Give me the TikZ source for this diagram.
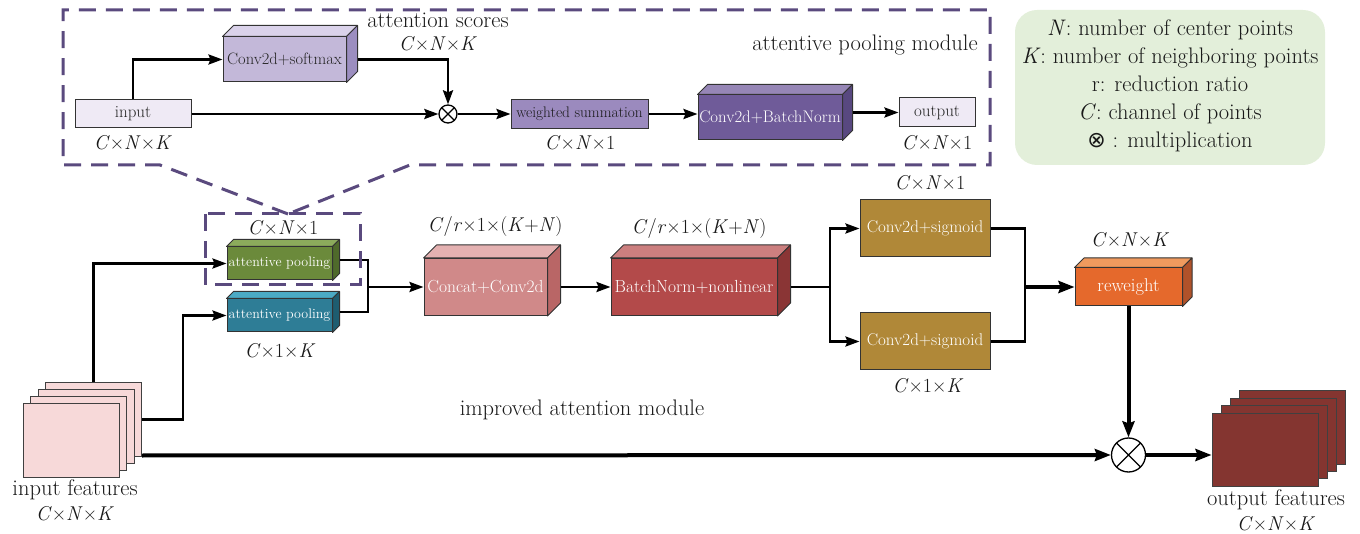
\documentclass[tikz,border=0pt]{standalone}
\usepackage{fontspec}
\newfontfamily\symf{DejaVu Sans}
\usetikzlibrary{arrows.meta,calc}
\newcommand\dm[3]{\textit{#1}×#2×\textit{#3}}
\newcommand\fs[1]{\fontsize{#1}{#1}\selectfont}
\definecolor{lightp}{HTML}{EFEAF5}
\definecolor{csF}{HTML}{C3B8D9}\definecolor{csT}{HTML}{DAD2EA}\definecolor{csS}{HTML}{9C8EC0}
\definecolor{wsF}{HTML}{9B8ABE}
\definecolor{cbF}{HTML}{6F5B99}\definecolor{cbT}{HTML}{9686B6}\definecolor{cbS}{HTML}{584880}
\definecolor{dashc}{HTML}{5A4A7E}
\definecolor{gpF}{HTML}{6B8A3B}\definecolor{gpT}{HTML}{8CAB5C}\definecolor{gpS}{HTML}{4F6A2B}
\definecolor{tpF}{HTML}{2E7D96}\definecolor{tpT}{HTML}{4BAAC4}\definecolor{tpS}{HTML}{1E5D70}
\definecolor{ccF}{HTML}{D08989}\definecolor{ccT}{HTML}{E4B1B1}\definecolor{ccS}{HTML}{B96666}
\definecolor{bnF}{HTML}{B34A4A}\definecolor{bnT}{HTML}{CC7F7F}\definecolor{bnS}{HTML}{8A3535}
\definecolor{gold}{HTML}{B08838}
\definecolor{rwF}{HTML}{E5692C}\definecolor{rwT}{HTML}{F09A5E}\definecolor{rwS}{HTML}{B0522A}
\definecolor{inpg}{HTML}{F7D9D9}
\definecolor{outpg}{HTML}{843530}
\definecolor{legc}{HTML}{E3EFDA}
\newcommand\cubesides[4]{%
  \filldraw[fill=#3,draw=black!80,line width=1pt,line join=round]
    (#1.north west) -- ([shift={(#2,-#2)}]#1.north west) -- ([shift={(#2,-#2)}]#1.north east) -- (#1.north east) -- cycle;
  \filldraw[fill=#4,draw=black!80,line width=1pt,line join=round]
    (#1.north east) -- ([shift={(#2,-#2)}]#1.north east) -- ([shift={(#2,-#2)}]#1.south east) -- (#1.south east) -- cycle;}
\tikzset{
  lab/.style={font=\fontsize{22.5}{26}\selectfont, inner sep=0pt, text=black!90},
  dlab/.style={font=\fontsize{20}{24}\selectfont, inner sep=0pt, text=black!90},
  box/.style={draw=black!80, line width=1pt, inner sep=0pt, font=\fs{16.5}, text=white},
  lightbox/.style={box, fill=lightp, text=black!85, font=\fs{17}},
  page/.style={draw=black!75, line width=1pt, inner sep=0pt},
  conn/.style={line width=2.5pt},
  thickconn/.style={line width=4pt},
  arr/.style={conn, -{Stealth[length=14pt,width=10pt,inset=2pt]}},
  thickarr/.style={thickconn, -{Stealth[length=16pt,width=12pt,inset=2pt]}},
  dashbox/.style={draw=dashc, line width=3pt, dash pattern=on 17pt off 10pt},
  mult/.style={circle, draw=black, line width=1.3pt, fill=white, inner sep=0pt,
    path picture={\draw[line width=1.3pt] (path picture bounding box.north west) -- (path picture bounding box.south east)
      (path picture bounding box.north east) -- (path picture bounding box.south west);}},
}
\begin{document}
\begin{tikzpicture}[x=1pt,y=-1pt]
\useasboundingbox (0,0) rectangle (1360,534);
% ---------- top module ----------
\node[lightbox, minimum width=116pt, minimum height=28pt] (in) at (133,114) {input};
\node[dlab] (inl) at (133,143) {\dm{C}{\textit{N}}{K}};
\node[box, fill=csF, text=black!85, minimum width=123pt, minimum height=45pt] (cs) at (284.5,59.5) {Conv2d+softmax};
\cubesides{cs}{11}{csT}{csS}
\node[lab] (asl) at (438,20) {attention scores};
\node[dlab] (asd) at (438,44) {\dm{C}{\textit{N}}{K}};
\node[mult, minimum size=18pt] (m1) at (448,114) {};
\node[box, fill=wsF, text=black!90, minimum width=137pt, minimum height=29pt, font=\fs{15.3}] (ws) at (579.5,114) {weighted summation};
\node[dlab] (wsl) at (580,143) {\textit{C}×\textit{N}×1};
\node[box, fill=cbF, minimum width=144pt, minimum height=45pt, font=\fs{16.8}] (cb) at (770,117.5) {Conv2d+BatchNorm};
\cubesides{cb}{10}{cbT}{cbS}
\node[lightbox, minimum width=76pt, minimum height=29pt] (out) at (937,112.5) {output};
\node[dlab] (outl) at (937,143) {\textit{C}×\textit{N}×1};
\node[lab] (apm) at (865,45) {attentive pooling module};
\draw[arr] (in.north) |- (cs.west);
\draw[arr] ([xshift=11pt]cs.east) -| (m1.north);
\draw[arr] (in.east) -- (m1.west);
\draw[arr] (m1.east) -- (ws.west);
\draw[arr] (ws.east) -- (ws.east -| cb.west);
\draw[arr] ([shift={(10,-5)}]cb.east) -- (out.west);
% ---------- legend ----------
\node[fill=legc, rounded corners=22pt, minimum width=310pt, minimum height=155pt, inner sep=0pt] (lg) at (1170,87.5) {};
\node[lab, align=center, font=\fontsize{22.5}{28}\selectfont] (lgt) at (1170,86) {\textit{N}: number of center points\\ \textit{K}: number of neighboring points\\ r: reduction ratio\\ \textit{C}: channel of points\\ {\symf\fontsize{22}{24}\selectfont ⊗} : multiplication};
% ---------- input features ----------
\node[page, fill=inpg, minimum width=96pt, minimum height=73pt] (if4) at (93.5,419.5) {};
\node[page, fill=inpg, minimum width=96pt, minimum height=73pt] (if3) at (86,426.5) {};
\node[page, fill=inpg, minimum width=96pt, minimum height=73pt] (if2) at (78.5,433.5) {};
\node[page, fill=inpg, minimum width=96pt, minimum height=73pt] (if1) at (71,440.5) {};
\node[lab] (ifl) at (75,490) {input features};
\node[dlab] (ifd) at (75,514) {\dm{C}{\textit{N}}{K}};
% ---------- attentive pooling ----------
\node[box, fill=gpF, minimum width=105pt, minimum height=33pt, font=\fs{14}] (gp) at (279.5,263.5) {attentive pooling};
\cubesides{gp}{7}{gpT}{gpS}
\node[box, fill=tpF, minimum width=105pt, minimum height=33pt, font=\fs{14}] (tp) at (279.5,315.5) {attentive pooling};
\cubesides{tp}{7}{tpT}{tpS}
\node[dlab] (gpl) at (283,228) {\textit{C}×\textit{N}×1};
\node[dlab] (tpl) at (280,351) {\dm{C}{1}{K}};
\coordinate (j1) at (368,287);
% ---------- middle ----------
\node[box, fill=ccF, minimum width=123pt, minimum height=57pt, font=\fs{17.5}] (cc) at (485.5,287) {Concat+Conv2d};
\cubesides{cc}{13}{ccT}{ccS}
\node[dlab] (ccl) at (495,227) {\textit{C}/\textit{r}×1×(\textit{K}+\textit{N})};
\node[box, fill=bnF, minimum width=166pt, minimum height=57pt, font=\fs{17.5}] (bn) at (694,287) {BatchNorm+nonlinear};
\cubesides{bn}{13}{bnT}{bnS}
\node[dlab] (bnl) at (699,229) {\textit{C}/\textit{r}×1×(\textit{K}+\textit{N})};
\coordinate (j2) at (830,287);
\node[box, fill=gold, minimum width=130pt, minimum height=57pt, font=\fs{17}] (s1) at (925,228.5) {Conv2d+sigmoid};
\node[box, fill=gold, minimum width=130pt, minimum height=57pt, font=\fs{17}] (s2) at (925,341.5) {Conv2d+sigmoid};
\node[dlab] (s1l) at (930,183) {\textit{C}×\textit{N}×1};
\node[dlab] (s2l) at (928,386) {\dm{C}{1}{K}};
\coordinate (j3) at (1025,287);
\node[box, fill=rwF, minimum width=107pt, minimum height=38pt, font=\fs{18.5}] (rw) at (1128.5,287) {reweight};
\cubesides{rw}{9.5}{rwT}{rwS}
\node[dlab] (rwl) at (1130,240) {\dm{C}{\textit{N}}{K}};
\node[mult, minimum size=34pt] (m2) at (1128.5,455) {};
\node[lab] (iam) at (582,410) {improved attention module};
% ---------- output features ----------
\node[page, fill=outpg, minimum width=106pt, minimum height=73pt] (of4) at (1292,427.5) {};
\node[page, fill=outpg, minimum width=106pt, minimum height=73pt] (of3) at (1283,435) {};
\node[page, fill=outpg, minimum width=106pt, minimum height=73pt] (of2) at (1274,442.2) {};
\node[page, fill=outpg, minimum width=106pt, minimum height=73pt] (of1) at (1265,449.5) {};
\node[lab] (ofl) at (1276,500) {output features};
\node[dlab] (ofd) at (1276,524) {\dm{C}{\textit{N}}{K}};
% ---------- connectors ----------
\draw[arr] (if4.north) |- (gp.west);
\draw[arr] (if4.east) -- ++(41,0) |- (tp.west);
\draw[conn] ([shift={(7,-3.5)}]gp.east) -| (j1);
\draw[conn] ([shift={(7,-3.5)}]tp.east) -| (j1);
\draw[arr] (j1) -- (cc.west);
\draw[arr] ([xshift=13pt]cc.east) -- (bn.west);
\draw[conn] ([xshift=13pt]bn.east) -- (j2);
\draw[arr] (j2) |- (s1.west);
\draw[arr] (j2) |- (s2.west);
\draw[conn] (s1.east) -| (j3);
\draw[conn] (s2.east) -| (j3);
\draw[thickarr] (j3) -- (rw.west);
\draw[thickarr] (rw.south) -- (m2.north);
\draw[thickarr] ([yshift=1pt]if4.south east) -- (m2.west);
\draw[thickarr] (m2.east) -- (m2.east -| of1.west);
% ---------- dashed zoom boxes ----------
\draw[dashbox] (288,214) -- (160,165) -- (63,165) -- (63,10) -- (990,10) -- (990,165) -- (410,165) -- cycle;
\draw[dashbox] (205,214) rectangle (360,285);
\end{tikzpicture}
\end{document}
